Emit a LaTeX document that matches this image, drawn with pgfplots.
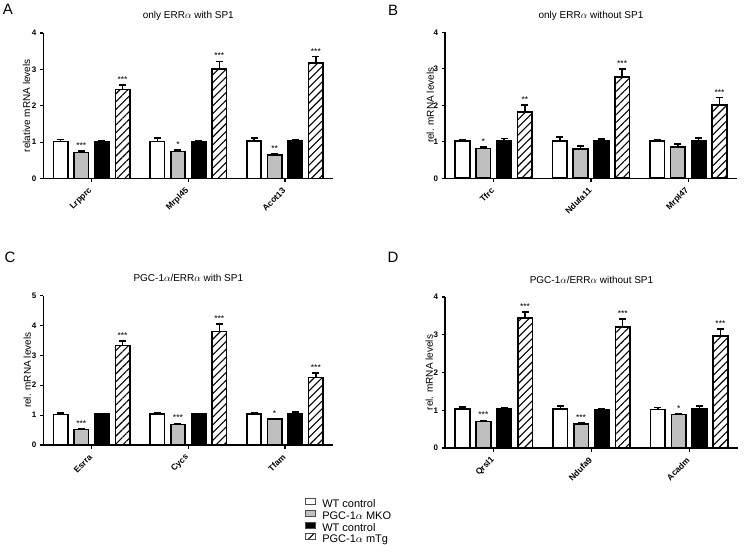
\documentclass[border=0pt]{standalone}
\usepackage{fontspec}
\setmainfont{Liberation Sans}
\usepackage{pgfplots}
\pgfplotsset{compat=1.18}
\usetikzlibrary{patterns.meta}

\pgfplotsset{
  panel/.style={
    scale only axis, ybar, ymin=0, xmin=-0.5, xmax=2.5,
    axis x line*=bottom, axis y line*=left,
    axis line style={-, line width=1.3pt},
    tick align=outside, major tick length=3.5pt,
    tick style={line width=1.2pt, black},
    xtick={0,1,2},
    xticklabel style={xshift=1.5pt, yshift=-5pt, rotate=45, anchor=east, font=\bfseries\fontsize{8.5}{9}\selectfont},
    yticklabel style={font=\bfseries\fontsize{8}{9}\selectfont},
    /pgf/number format/assume math mode=true,
    title style={at={(axis description cs:0.5,1)}, anchor=base, yshift=8pt, font=\fontsize{10}{12}\selectfont},
    ylabel style={font=\bfseries\fontsize{9.5}{11}\selectfont},
    clip=false,
  },
  ylab/.style={every axis y label/.style={at={(axis description cs:#1,0.5)}, rotate=90, anchor=center}},
  lb/.style={legend image code/.code={\draw[##1, line width=0.6pt, draw=black!70] (0pt,0.5pt) rectangle (10pt,6.5pt);}},
  eb/.style={draw=black, line width=1.6pt, bar width=0.15,
    error bars/.cd, y dir=plus, y explicit, error mark=|,
    error bar style={line width=1.4pt, black, solid},
    error mark options={line width=1.6pt, black, mark size=3.5pt, solid}},
}
\newcommand{\st}[3]{\node[anchor=base, inner sep=0pt, yshift=2.5pt, font=\fontsize{8.5}{9}\selectfont] at (axis cs:#1,#2) {#3};}

\begin{document}
\begin{tikzpicture}
\useasboundingbox (0,0) rectangle (750pt,552pt);

% ---------------- A ----------------
\begin{axis}[panel, at={(43.3pt,373.5pt)}, anchor=south west,
  width=290pt, height=145.5pt, ymax=4, ytick={0,1,2,3,4},
  xticklabels={Lrpprc,Mrpl45,Acot13},
  title={only ERR$\alpha$ with SP1},
  ylabel={relative mRNA levels}, ylab=-0.058]
\addplot[fill=white, bar shift=-0.32, eb] coordinates {(0,1.02) += (0,0.05) (1,1.02) += (0,0.10) (2,1.03) += (0,0.09)};
\addplot[fill=black!25, bar shift=-0.107, eb] coordinates {(0,0.72) += (0,0.03) (1,0.74) += (0,0.04) (2,0.65) += (0,0.03)};
\addplot[fill=black, bar shift=0.107, eb] coordinates {(0,1.02) += (0,0.02) (1,1.02) += (0,0.03) (2,1.03) += (0,0.04)};
\addplot[pattern={Lines[angle=45,distance=5.5pt,line width=1.1pt]}, pattern color=black, bar shift=0.32, eb] coordinates {(0,2.45) += (0,0.12) (1,3.01) += (0,0.21) (2,3.18) += (0,0.17)};
\st{-0.107}{0.75}{***}\st{0.893}{0.78}{*}\st{1.893}{0.68}{**}
\st{0.32}{2.57}{***}\st{1.32}{3.22}{***}\st{2.32}{3.35}{***}
\end{axis}

% ---------------- B ----------------
\begin{axis}[panel, at={(445pt,373.7pt)}, anchor=south west,
  width=292pt, height=146pt, ymax=4, ytick={0,1,2,3,4},
  xticklabels={Tfrc,Ndufa11,Mrpl47},
  title={only ERR$\alpha$ without SP1},
  ylabel={rel. mRNA levels}, ylab=-0.05]
\addplot[fill=white, bar shift=-0.32, eb] coordinates {(0,1.02) += (0,0.04) (1,1.02) += (0,0.11) (2,1.02) += (0,0.03)};
\addplot[fill=black!25, bar shift=-0.107, eb] coordinates {(0,0.82) += (0,0.04) (1,0.80) += (0,0.08) (2,0.85) += (0,0.09)};
\addplot[fill=black, bar shift=0.107, eb] coordinates {(0,1.03) += (0,0.06) (1,1.02) += (0,0.05) (2,1.04) += (0,0.06)};
\addplot[pattern={Lines[angle=45,distance=5.5pt,line width=1.1pt]}, pattern color=black, bar shift=0.32, eb] coordinates {(0,1.82) += (0,0.18) (1,2.78) += (0,0.21) (2,2.01) += (0,0.20)};
\st{-0.107}{0.86}{*}
\st{0.32}{2.0}{**}\st{1.32}{2.99}{***}\st{2.32}{2.21}{***}
\end{axis}

% ---------------- C ----------------
\begin{axis}[panel, at={(43.3pt,107pt)}, anchor=south west,
  width=290pt, height=149.5pt, ymax=5, ytick={0,1,2,3,4,5},
  xticklabels={Esrra,Cycs,Tfam},
  title={PGC-1$\alpha$/ERR$\alpha$ with SP1},
  ylabel={rel. mRNA levels}, ylab=-0.055,
  legend cell align=left,
  legend style={at={(axis description cs:0.9024,-0.356)}, anchor=north west,
    draw=none, fill=none, inner sep=0pt, row sep=0pt, column sep=6.5pt,
    font=\fontsize{11}{12}\selectfont,
    nodes={inner sep=0pt, text height=7.5pt, text depth=2pt}}]
\addplot[fill=white, bar shift=-0.32, lb, eb] coordinates {(0,1.02) += (0,0.06) (1,1.03) += (0,0.06) (2,1.03) += (0,0.05)};
\addplot[fill=black!25, bar shift=-0.107, lb, eb] coordinates {(0,0.52) += (0,0.03) (1,0.69) += (0,0.03) (2,0.86) += (0,0.02)};
\addplot[fill=black, bar shift=0.107, lb, eb] coordinates {(0,1.03) += (0,0.03) (1,1.03) += (0,0.03) (2,1.05) += (0,0.05)};
\addplot[pattern={Lines[angle=45,distance=5.5pt,line width=1.1pt]}, pattern color=black, bar shift=0.32, lb, eb] coordinates {(0,3.33) += (0,0.15) (1,3.80) += (0,0.24) (2,2.26) += (0,0.15)};
\legend{WT control, PGC-1$\alpha$ MKO, WT control, PGC-1$\alpha$ mTg}
\st{-0.107}{0.55}{***}\st{0.893}{0.72}{***}\st{1.893}{0.88}{*}
\st{0.32}{3.48}{***}\st{1.32}{4.04}{***}\st{2.32}{2.41}{***}
\end{axis}

% ---------------- D ----------------
\begin{axis}[panel, at={(445pt,104pt)}, anchor=south west,
  width=293pt, height=151pt, ymax=4, ytick={0,1,2,3,4},
  xticklabels={Qrsl1,Ndufa9,Acadm},
  title={PGC-1$\alpha$/ERR$\alpha$ without SP1},
  ylabel={rel. mRNA levels}, ylab=-0.054]
\addplot[fill=white, bar shift=-0.32, eb] coordinates {(0,1.03) += (0,0.05) (1,1.03) += (0,0.08) (2,1.02) += (0,0.05)};
\addplot[fill=black!25, bar shift=-0.107, eb] coordinates {(0,0.70) += (0,0.03) (1,0.63) += (0,0.03) (2,0.89) += (0,0.02)};
\addplot[fill=black, bar shift=0.107, eb] coordinates {(0,1.03) += (0,0.03) (1,1.02) += (0,0.03) (2,1.04) += (0,0.07)};
\addplot[pattern={Lines[angle=45,distance=5.5pt,line width=1.1pt]}, pattern color=black, bar shift=0.32, eb] coordinates {(0,3.44) += (0,0.16) (1,3.21) += (0,0.20) (2,2.97) += (0,0.19)};
\st{-0.107}{0.73}{***}\st{0.893}{0.66}{***}\st{1.893}{0.91}{*}
\st{0.32}{3.60}{***}\st{1.32}{3.41}{***}\st{2.32}{3.16}{***}
\end{axis}

\node[font=\fontsize{15}{15}\selectfont] at (8pt,543pt) {A};
\node[font=\fontsize{15}{15}\selectfont] at (393pt,542pt) {B};
\node[font=\fontsize{15}{15}\selectfont] at (10pt,295pt) {C};
\node[font=\fontsize{15}{15}\selectfont] at (393pt,295pt) {D};
\end{tikzpicture}
\end{document}
